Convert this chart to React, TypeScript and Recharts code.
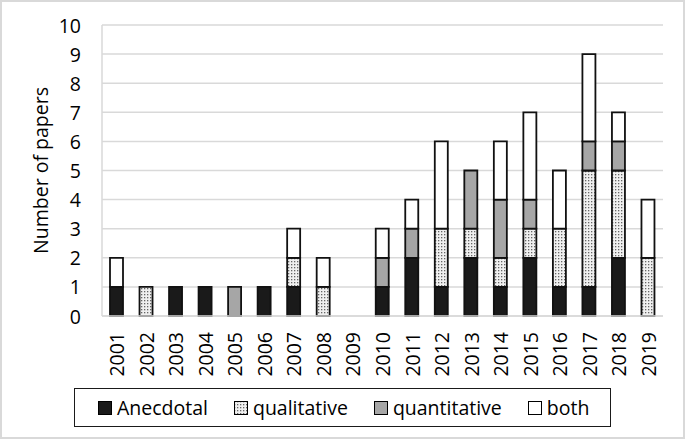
import { BarChart, Bar, XAxis, YAxis, CartesianGrid, Legend } from "recharts";

const years = [
	"2001", "2002", "2003", "2004", "2005", "2006", "2007", "2008", "2009", "2010",
	"2011", "2012", "2013", "2014", "2015", "2016", "2017", "2018", "2019",
];
const anecdotal = [1, 0, 1, 1, 0, 1, 1, 0, 0, 1, 2, 1, 2, 1, 2, 1, 1, 2, 0];
const qualitative = [0, 1, 0, 0, 0, 0, 1, 1, 0, 0, 0, 2, 1, 1, 1, 2, 4, 3, 2];
const quantitative = [0, 0, 0, 0, 1, 0, 0, 0, 0, 1, 1, 0, 2, 2, 1, 0, 1, 1, 0];
const both = [1, 0, 0, 0, 0, 0, 1, 1, 0, 1, 1, 3, 0, 2, 3, 2, 3, 1, 2];
const yTicks = [0, 1, 2, 3, 4, 5, 6, 7, 8, 9, 10];

const FONT = "'Open Sans', sans-serif";

const series = [
	{ key: "Anecdotal", fill: "#1a1a1a" },
	{ key: "qualitative", fill: "url(#dots)" },
	{ key: "quantitative", fill: "#a6a6a6" },
	{ key: "both", fill: "#ffffff" },
];

const chartData = years.map((year, i) => ({
	year,
	Anecdotal: anecdotal[i],
	qualitative: qualitative[i],
	quantitative: quantitative[i],
	both: both[i],
}));

function YTick({ y, payload }: any) {
	return (
		<text x={81} y={y} textAnchor="end" dominantBaseline="central" fontSize={19.5} fontFamily={FONT} fill="#000">
			{payload.value}
		</text>
	);
}

function XTick({ x, y, payload }: any) {
	return (
		<g transform={`translate(${x},${y})`}>
			<text
				transform="rotate(-90)"
				x={-8}
				y={0}
				textAnchor="end"
				dominantBaseline="central"
				fontSize={19.5}
				fontFamily={FONT}
				fill="#000"
			>
				{payload.value}
			</text>
		</g>
	);
}

function YLabel({ viewBox }: any) {
	const cy = viewBox.y + viewBox.height / 2;
	return (
		<text
			x={40}
			y={cy}
			transform={`rotate(-90, 40, ${cy})`}
			textAnchor="middle"
			dominantBaseline="central"
			fontSize={19.5}
			fontFamily={FONT}
			fill="#000"
		>
			Number of papers
		</text>
	);
}

function LegendBox() {
	return (
		<div
			style={{
				boxSizing: "border-box",
				width: 537,
				height: 39,
				border: "1.5px solid #1a1a1a",
				display: "flex",
				alignItems: "center",
				paddingLeft: 23,
				gap: 26,
				fontFamily: FONT,
				fontSize: 19.5,
				color: "#000",
			}}
		>
			{series.map((s) => (
				<span key={s.key} style={{ display: "flex", alignItems: "center", gap: 5 }}>
					<svg width={14} height={14}>
						<rect x={0.5} y={0.5} width={13} height={13} fill={s.fill} stroke="#000" strokeWidth={1} />
					</svg>
					{s.key}
				</span>
			))}
		</div>
	);
}

export default function App() {
	return (
		<div style={{ position: "absolute", left: 0, top: 0, width: 685, height: 440, background: "#fff" }}>
			<BarChart
				width={685}
				height={440}
				data={chartData}
				margin={{ top: 25, right: 22, bottom: 13, left: 0 }}
				barSize={13}
			>
				<defs>
					<pattern id="dots" width={3} height={3} patternUnits="userSpaceOnUse">
						<rect width={3} height={3} fill="#f0f0f0" />
						<rect x={0} y={0} width={1.3} height={1.3} fill="#666" />
					</pattern>
				</defs>
				<CartesianGrid vertical={false} stroke="#d9d9d9" strokeWidth={1.5} />
				<XAxis
					dataKey="year"
					height={72}
					interval={0}
					tickLine={false}
					axisLine={{ stroke: "#d9d9d9", strokeWidth: 1.5 }}
					tick={<XTick />}
				/>
				<YAxis
					width={102}
					domain={[0, 10]}
					ticks={yTicks}
					interval={0}
					tickLine={false}
					axisLine={{ stroke: "#d9d9d9", strokeWidth: 1.5 }}
					tick={<YTick />}
					label={<YLabel />}
				/>
				<Legend
					verticalAlign="bottom"
					content={<LegendBox />}
					wrapperStyle={{ left: 74, width: 537, bottom: 13 }}
				/>
				{series.map((s) => (
					<Bar
						key={s.key}
						dataKey={s.key}
						stackId="a"
						fill={s.fill}
						stroke="#111"
						strokeWidth={1.8}
						isAnimationActive={false}
					/>
				))}
			</BarChart>
			<div
				style={{
					position: "absolute",
					left: 0,
					top: 0,
					width: 685,
					height: 439,
					boxSizing: "border-box",
					border: "2px solid #d9d9d9",
					pointerEvents: "none",
				}}
			/>
		</div>
	);
}
